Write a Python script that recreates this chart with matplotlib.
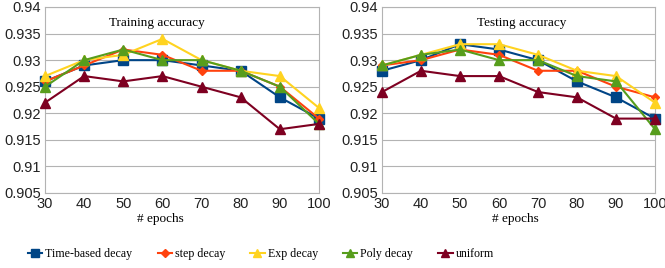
import matplotlib
matplotlib.use("Agg")
import matplotlib.pyplot as plt

epochs = [30, 40, 50, 60, 70, 80, 90, 100]
series_names = ["Time-based decay", "step decay", "Exp decay", "Poly decay", "uniform"]

train_time = [0.926, 0.929, 0.930, 0.930, 0.929, 0.928, 0.923, 0.919]
train_step = [0.926, 0.929, 0.932, 0.931, 0.928, 0.928, 0.925, 0.919]
train_exp = [0.927, 0.930, 0.931, 0.934, 0.930, 0.928, 0.927, 0.921]
train_poly = [0.925, 0.930, 0.932, 0.930, 0.930, 0.928, 0.925, 0.918]
train_unif = [0.922, 0.927, 0.926, 0.927, 0.925, 0.923, 0.917, 0.918]

test_time = [0.928, 0.930, 0.933, 0.932, 0.930, 0.926, 0.923, 0.919]
test_step = [0.929, 0.930, 0.932, 0.931, 0.928, 0.928, 0.925, 0.923]
test_exp = [0.929, 0.931, 0.933, 0.933, 0.931, 0.928, 0.927, 0.922]
test_poly = [0.929, 0.931, 0.932, 0.930, 0.930, 0.927, 0.926, 0.917]
test_unif = [0.924, 0.928, 0.927, 0.927, 0.924, 0.923, 0.919, 0.919]

y_ticks = [0.905, 0.91, 0.915, 0.92, 0.925, 0.93, 0.935, 0.94]
y_labels = ["0.905", "0.91", "0.915", "0.92", "0.925", "0.93", "0.935", "0.94"]

colors = ["#004586", "#ff420e", "#ffd320", "#579d1c", "#7e0021"]
markers = ["s", "D", "^", "^", "^"]
msizes = [6.5, 4.5, 6.5, 6.5, 6.5]

fig = plt.figure(figsize=(6.65, 2.68), dpi=100)
ax1 = fig.add_axes([45/665, 1-193/268, (319-45)/665, (193-7)/268])
ax2 = fig.add_axes([382/665, 1-193/268, (655-382)/665, (193-7)/268])

sans = "Liberation Sans"
serif = "Liberation Serif"

def draw(ax, data, title, tx, lx):
    handles = []
    for vals, c, m, ms, name in zip(data, colors, markers, msizes, series_names):
        h, = ax.plot(epochs, vals, color=c, marker=m, markersize=ms, linewidth=1.5,
                     label=name, clip_on=False, zorder=3)
        handles.append(h)
    ax.set_xlim(30, 100)
    ax.set_ylim(0.905, 0.94)
    ax.set_xticks(epochs)
    ax.set_xticklabels([str(e) for e in epochs], fontfamily=sans, fontsize=10.5)
    ax.set_yticks(y_ticks)
    ax.set_yticklabels(y_labels, fontfamily=sans, fontsize=10.5)
    ax.grid(axis="y", color="#b3b3b3", linewidth=0.8)
    ax.set_axisbelow(True)
    for s in ax.spines.values():
        s.set_color("#b3b3b3")
        s.set_linewidth(0.8)
    ax.tick_params(length=0, pad=3, colors="#222222")
    ax.text(lx, -0.14, "# epochs", transform=ax.transAxes, ha="center", va="center",
            fontfamily=serif, fontsize=9.5)
    ax.text(tx, 0.914, title, transform=ax.transAxes, ha="center", va="center",
            fontfamily=serif, fontsize=9.5)
    return handles

h = draw(ax1, [train_time, train_step, train_exp, train_poly, train_unif],
         "Training accuracy", 0.41, 0.42)
draw(ax2, [test_time, test_step, test_exp, test_poly, test_unif],
     "Testing accuracy", 0.51, 0.49)

fig.legend(h, series_names, loc="center left", bbox_to_anchor=(28/665, 1-254/268), ncol=5,
           frameon=False, prop={"family": serif, "size": 8.6}, handlelength=1.2,
           columnspacing=2.1, handletextpad=0.25, borderpad=0, borderaxespad=0,
           markerscale=0.8)

fig.savefig("out.png", dpi=100)
